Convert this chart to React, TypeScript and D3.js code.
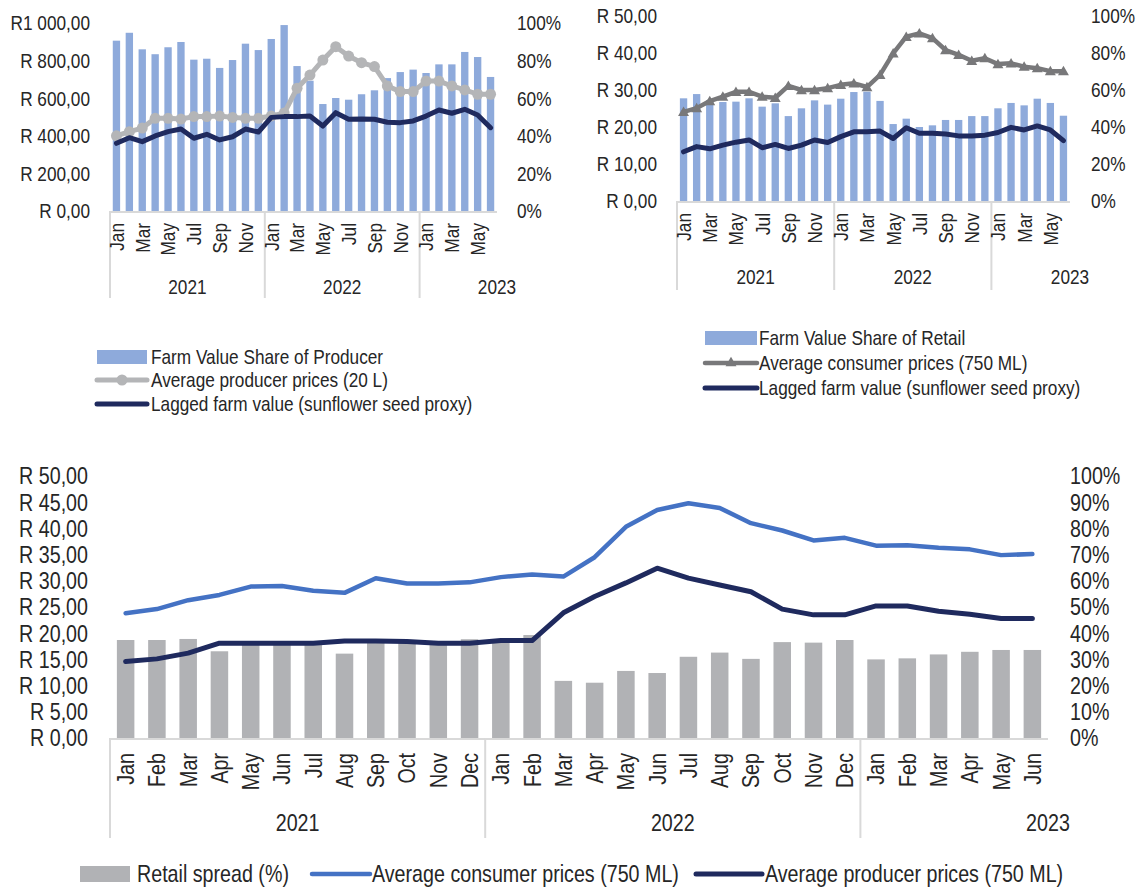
import React from "react";
import * as d3 from "d3";

// ---------- shared categories ----------
const months = [
  "Jan","Feb","Mar","Apr","May","Jun","Jul","Aug","Sep","Oct","Nov","Dec",
  "Jan","Feb","Mar","Apr","May","Jun","Jul","Aug","Sep","Oct","Nov","Dec",
  "Jan","Feb","Mar","Apr","May","Jun",
];
const years = ["2021", "2022", "2023"];
const yearStarts = [0, 12, 24];

// ---------- top-left chart ----------
const farmShareProducer = [90.6, 94.8, 86.0, 83.4, 87.1, 89.9, 80.5, 81.0, 76.1, 80.3, 89.0, 85.6,
  91.5, 98.9, 77.1, 69.3, 56.9, 60.1, 59.2, 62.1, 64.2, 70.7, 73.9, 75.2,
  73.4, 78.0, 78.0, 84.6, 81.9, 71.3];
const producerPrice20L = [400, 422, 441, 493, 493, 489, 502, 502, 505, 498, 493, 493,
  505, 521, 653, 723, 803, 874, 824, 789, 768, 665, 635, 635,
  691, 691, 665, 644, 621, 621];
const laggedFarm20L = [360, 390, 369, 399, 422, 436, 387, 408, 378, 395, 436, 420,
  498, 502, 502, 505, 452, 523, 488, 489, 488, 472, 470, 479,
  505, 537, 520, 541, 511, 443];
const tlLeftTicks = [0, 200, 400, 600, 800, 1000];
const tlLeftLabels = ["R 0,00", "R 200,00", "R 400,00", "R 600,00", "R 800,00", "R1 000,00"];
const pctTicks20 = [0, 20, 40, 60, 80, 100];
const pctLabels20 = ["0%", "20%", "40%", "60%", "80%", "100%"];

// ---------- top-right chart ----------
const farmShareRetail = [55.5, 57.8, 54.5, 53.5, 53.7, 55.5, 51.0, 52.8, 45.9, 50.1, 54.4, 52.1,
  55.3, 58.9, 59.1, 54.1, 41.6, 44.5, 40.0, 40.9, 43.8, 43.8, 45.9, 45.9,
  50.1, 53.0, 51.7, 55.3, 53.0, 46.1];
const consumerPrice750 = [24.1, 25.1, 27.0, 28.2, 29.5, 29.5, 28.2, 27.9, 31.1, 30.0, 30.0, 30.5,
  31.4, 31.8, 30.8, 34.1, 39.9, 44.4, 45.3, 44.0, 40.8, 39.5, 37.9, 38.6,
  37.0, 37.2, 36.3, 35.9, 35.1, 35.1];
const laggedFarm750 = [13.3, 14.7, 14.1, 15.1, 15.9, 16.5, 14.4, 15.3, 14.2, 15.1, 16.5, 15.8,
  17.4, 18.7, 18.7, 18.9, 16.9, 19.8, 18.3, 18.3, 18.1, 17.6, 17.6, 17.8,
  18.5, 19.9, 19.2, 20.3, 19.2, 16.3];
const trLeftTicks = [0, 10, 20, 30, 40, 50];
const trLeftLabels = ["R 0,00", "R 10,00", "R 20,00", "R 30,00", "R 40,00", "R 50,00"];

// ---------- bottom chart ----------
const retailSpread = [37.4, 37.4, 37.8, 33.1, 37.0, 37.0, 36.8, 32.2, 37.4, 36.8, 36.3, 37.7,
  37.4, 39.3, 21.8, 21.1, 25.6, 24.8, 31.0, 32.6, 30.2, 36.6, 36.4, 37.4,
  30.0, 30.4, 31.9, 32.9, 33.6, 33.6];
const avgConsumer750 = [23.8, 24.6, 26.3, 27.3, 28.9, 29.0, 28.1, 27.7, 30.5, 29.5, 29.5, 29.7,
  30.7, 31.2, 30.8, 34.5, 40.3, 43.5, 44.8, 43.9, 41.0, 39.6, 37.7, 38.2,
  36.7, 36.8, 36.3, 36.0, 34.9, 35.1];
const avgProducer750 = [14.6, 15.1, 16.2, 18.1, 18.1, 18.1, 18.1, 18.5, 18.5, 18.4, 18.1, 18.1,
  18.6, 18.6, 23.9, 27.0, 29.6, 32.4, 30.5, 29.2, 27.9, 24.6, 23.5, 23.5,
  25.2, 25.2, 24.2, 23.6, 22.8, 22.8];
const btLeftTicks = [0, 5, 10, 15, 20, 25, 30, 35, 40, 45, 50];
const btLeftLabels = ["R 0,00", "R 5,00", "R 10,00", "R 15,00", "R 20,00", "R 25,00", "R 30,00", "R 35,00", "R 40,00", "R 45,00", "R 50,00"];
const pctTicks10 = [0, 10, 20, 30, 40, 50, 60, 70, 80, 90, 100];
const pctLabels10 = ["0%", "10%", "20%", "30%", "40%", "50%", "60%", "70%", "80%", "90%", "100%"];

// ---------- styles ----------
const FONT = "'Liberation Sans',Arial,sans-serif";
const SX = 0.82; // horizontal condensing to mimic a narrow face
const TEXT = "#262626";
const AXIS = "#d9d9d9";
const BAR_BLUE = "#8eaadb";
const NAVY = "#1f2a5e";
const LIGHT_GRAY = "#b4b5b7";
const DARK_GRAY = "#78787a";
const BAR_GRAY = "#b1b2b5";
const BLUE = "#4472c4";

function Txt({ x, y, rot, anchor, fs, children }: any) {
  const t = `translate(${x},${y})${rot ? ` rotate(${rot})` : ""} scale(${SX},1)`;
  return (
    <g transform={t}>
      <text x={0} y={0} dy="0.35em" textAnchor={anchor || "start"} fontSize={fs} fontFamily={FONT} fill={TEXT}>{children}</text>
    </g>
  );
}

type LineSpec = {
  values: number[];
  color: string;
  width: number;
  axis: "left" | "right";
  marker?: "circle" | "triangle";
};

type ChartProps = {
  x0: number; x1: number; yBottom: number; yTop: number;
  leftMax: number; rightMax: number;
  leftTicks: number[]; leftLabels: string[];
  rightTicks: number[]; rightLabels: string[];
  bars: number[]; barColor: string; barRatio: number;
  lines: LineSpec[];
  fs: number; monthStep: number; monthGap: number; yearY: number; sepBottom: number;
  leftLabelGap: number; rightLabelGap: number;
};

function ComboChart(p: ChartProps) {
  const n = months.length;
  const x = d3.scaleBand<number>().domain(d3.range(n)).range([p.x0, p.x1]).padding(0);
  const step = x.step();
  const cx = (i: number) => (x(i) as number) + step / 2;
  const yL = d3.scaleLinear().domain([0, p.leftMax]).range([p.yBottom, p.yTop]);
  const yR = d3.scaleLinear().domain([0, p.rightMax]).range([p.yBottom, p.yTop]);
  const bw = step * p.barRatio;
  const tri = d3.symbol().type(d3.symbolTriangle).size(52);
  return (
    <g>
      {p.bars.map((v, i) => (
        <rect key={"b" + i} x={cx(i) - bw / 2} y={yR(v)} width={bw} height={p.yBottom - yR(v)} fill={p.barColor} />
      ))}
      <line x1={p.x0} x2={p.x1} y1={p.yBottom + 1} y2={p.yBottom + 1} stroke={AXIS} strokeWidth={2} />
      {yearStarts.map((s, k) => (
        <line key={"s" + k} x1={x(s) as number} x2={x(s) as number} y1={p.yBottom} y2={p.sepBottom} stroke={AXIS} strokeWidth={2} />
      ))}
      {p.lines.map((l, k) => {
        const ys = l.axis === "left" ? yL : yR;
        const path = d3.line<number>().x((_, i) => cx(i)).y((v) => ys(v))(l.values) as string;
        return (
          <g key={"l" + k}>
            <path d={path} fill="none" stroke={l.color} strokeWidth={l.width} strokeLinejoin="round" strokeLinecap="round" />
            {l.marker === "circle" && l.values.map((v, i) => (
              <circle key={i} cx={cx(i)} cy={ys(v)} r={5.5} fill={l.color} />
            ))}
            {l.marker === "triangle" && l.values.map((v, i) => (
              <path key={i} d={tri() as string} transform={`translate(${cx(i)},${ys(v) + 1})`} fill={l.color} />
            ))}
          </g>
        );
      })}
      {p.leftTicks.map((t, i) => (
        <Txt key={"yl" + i} x={p.x0 - p.leftLabelGap} y={yL(t)} anchor="end" fs={p.fs}>{p.leftLabels[i]}</Txt>
      ))}
      {p.rightTicks.map((t, i) => (
        <Txt key={"yr" + i} x={p.x1 + p.rightLabelGap} y={yR(t)} anchor="start" fs={p.fs}>{p.rightLabels[i]}</Txt>
      ))}
      {months.map((m, i) => (i % p.monthStep === 0 ? (
        <Txt key={"m" + i} x={cx(i)} y={p.yBottom + p.monthGap} rot={-90} anchor="end" fs={p.fs}>{m}</Txt>
      ) : null))}
      {years.map((yr, k) => (
        <Txt key={"y" + k} x={(x(yearStarts[k]) as number) + 6 * step} y={p.yearY} anchor="middle" fs={p.fs}>{yr}</Txt>
      ))}
    </g>
  );
}

function LegendRect({ x, y, w, h, color, label, fs, tx }: any) {
  return (
    <g>
      <rect x={x} y={y - h / 2} width={w} height={h} fill={color} />
      <Txt x={tx} y={y} fs={fs}>{label}</Txt>
    </g>
  );
}

function LegendLine({ x, y, w, color, width, label, fs, tx, marker }: any) {
  const tri = d3.symbol().type(d3.symbolTriangle).size(52);
  return (
    <g>
      <line x1={x} x2={x + w} y1={y} y2={y} stroke={color} strokeWidth={width} strokeLinecap="round" />
      {marker === "circle" && <circle cx={x + w / 2} cy={y} r={5.5} fill={color} />}
      {marker === "triangle" && <path d={tri() as string} transform={`translate(${x + w / 2},${y})`} fill={color} />}
      <Txt x={tx} y={y} fs={fs}>{label}</Txt>
    </g>
  );
}

export default function App() {
  return (
    <svg width={1142} height={888} style={{ position: "absolute", left: 0, top: 0, background: "#fff" }}>
      <rect width={1142} height={888} fill="#fff" />
      <ComboChart
        x0={110} x1={497} yBottom={211} yTop={23}
        leftMax={1000} rightMax={100}
        leftTicks={tlLeftTicks} leftLabels={tlLeftLabels}
        rightTicks={pctTicks20} rightLabels={pctLabels20}
        bars={farmShareProducer} barColor={BAR_BLUE} barRatio={0.57}
        lines={[
          { values: producerPrice20L, color: LIGHT_GRAY, width: 5, axis: "left", marker: "circle" },
          { values: laggedFarm20L, color: NAVY, width: 5, axis: "left" },
        ]}
        fs={21} monthStep={2} monthGap={12} yearY={287} sepBottom={298}
        leftLabelGap={20} rightLabelGap={20}
      />
      <ComboChart
        x0={677} x1={1070} yBottom={201} yTop={16}
        leftMax={50} rightMax={100}
        leftTicks={trLeftTicks} leftLabels={trLeftLabels}
        rightTicks={pctTicks20} rightLabels={pctLabels20}
        bars={farmShareRetail} barColor={BAR_BLUE} barRatio={0.56}
        lines={[
          { values: consumerPrice750, color: DARK_GRAY, width: 4.5, axis: "left", marker: "triangle" },
          { values: laggedFarm750, color: NAVY, width: 5, axis: "left" },
        ]}
        fs={21} monthStep={2} monthGap={12} yearY={277} sepBottom={290}
        leftLabelGap={20} rightLabelGap={21}
      />
      <ComboChart
        x0={110} x1={1048} yBottom={738} yTop={476}
        leftMax={50} rightMax={100}
        leftTicks={btLeftTicks} leftLabels={btLeftLabels}
        rightTicks={pctTicks10} rightLabels={pctLabels10}
        bars={retailSpread} barColor={BAR_GRAY} barRatio={0.56}
        lines={[
          { values: avgConsumer750, color: BLUE, width: 4.5, axis: "left" },
          { values: avgProducer750, color: NAVY, width: 5, axis: "left" },
        ]}
        fs={24} monthStep={1} monthGap={15} yearY={823} sepBottom={838}
        leftLabelGap={22} rightLabelGap={22}
      />
      {/* legends */}
      <LegendRect x={97} y={357} w={50} h={14} color={BAR_BLUE} label="Farm Value Share of Producer" fs={21} tx={151} />
      <LegendLine x={97} y={380} w={50} color={LIGHT_GRAY} width={5} marker="circle" label="Average producer prices (20 L)" fs={21} tx={151} />
      <LegendLine x={97} y={404} w={50} color={NAVY} width={5} label="Lagged farm value (sunflower seed proxy)" fs={21} tx={151} />

      <LegendRect x={705} y={338} w={52} h={14} color={BAR_BLUE} label="Farm Value Share of Retail" fs={21} tx={759} />
      <LegendLine x={705} y={363} w={52} color={DARK_GRAY} width={4.5} marker="triangle" label="Average consumer prices (750 ML)" fs={21} tx={759} />
      <LegendLine x={705} y={388} w={52} color={NAVY} width={5} label="Lagged farm value (sunflower seed proxy)" fs={21} tx={759} />

      <LegendRect x={80} y={874} w={50} h={16} color={BAR_GRAY} label="Retail spread (%)" fs={24} tx={137} />
      <LegendLine x={312} y={874} w={58} color={BLUE} width={4.5} label="Average consumer prices (750 ML)" fs={24} tx={372} />
      <LegendLine x={696} y={874} w={66} color={NAVY} width={5} label="Average producer prices (750 ML)" fs={24} tx={765} />
    </svg>
  );
}
